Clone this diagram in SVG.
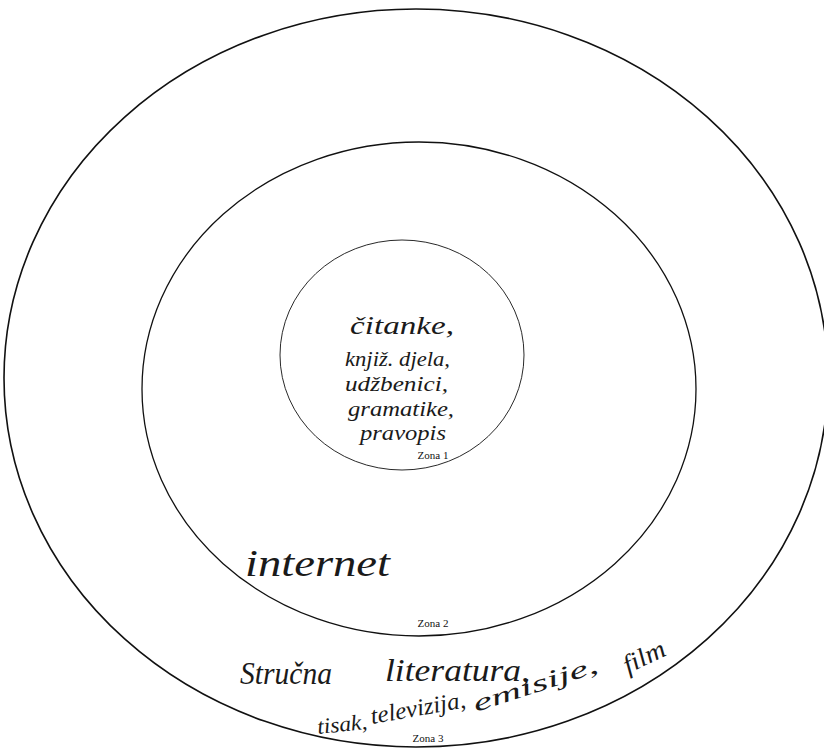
<svg xmlns="http://www.w3.org/2000/svg" width="824" height="749" viewBox="0 0 824 749">
<style>
.ring{fill:none;stroke:#111}
.hw{font-family:"Liberation Serif","DejaVu Serif",serif;font-style:italic;fill:#1a1a1a}
.zl{font-family:"Liberation Serif","Times New Roman",serif;font-size:11px;fill:#111;text-anchor:middle}
</style>
<rect width="824" height="749" fill="#fff"/>
<g id="zone3">
<ellipse class="ring" cx="416" cy="378" rx="412" ry="369" stroke-width="1.6"/>
<text class="hw" x="240" y="684" font-size="32" textLength="92" lengthAdjust="spacingAndGlyphs">Stručna</text>
<text class="hw" x="385" y="681" font-size="32" textLength="145" lengthAdjust="spacingAndGlyphs">literatura,</text>
<text class="hw" x="318" y="734" font-size="22" transform="rotate(-6 318 734)" textLength="50" lengthAdjust="spacingAndGlyphs">tisak,</text>
<text class="hw" x="372" y="724" font-size="24" transform="rotate(-10 372 724)" textLength="96" lengthAdjust="spacingAndGlyphs">televizija,</text>
<text class="hw" x="476" y="712" font-size="24" transform="rotate(-18 476 712)" textLength="130" lengthAdjust="spacingAndGlyphs">emisije,</text>
<text class="hw" x="628" y="674" font-size="26" transform="rotate(-26 628 674)" textLength="44" lengthAdjust="spacingAndGlyphs">film</text>
<text class="zl" x="428" y="742">Zona 3</text>
</g>
<g id="zone2">
<ellipse class="ring" cx="419" cy="389" rx="277" ry="247" stroke-width="1.3"/>
<text class="hw" x="245" y="576" font-size="38" textLength="145" lengthAdjust="spacingAndGlyphs">internet</text>
<text class="zl" x="433" y="627">Zona 2</text>
</g>
<g id="zone1">
<ellipse class="ring" cx="402" cy="355" rx="122" ry="115" stroke-width="0.9" stroke="#444"/>
<text class="hw" x="350" y="334" font-size="26" textLength="104" lengthAdjust="spacingAndGlyphs">čitanke,</text>
<text class="hw" x="345" y="366" font-size="21" textLength="105" lengthAdjust="spacingAndGlyphs">knjiž. djela,</text>
<text class="hw" x="345" y="391" font-size="21" textLength="103" lengthAdjust="spacingAndGlyphs">udžbenici,</text>
<text class="hw" x="348" y="416" font-size="21" textLength="106" lengthAdjust="spacingAndGlyphs">gramatike,</text>
<text class="hw" x="360" y="440" font-size="21" textLength="86" lengthAdjust="spacingAndGlyphs">pravopis</text>
<text class="zl" x="433" y="459">Zona 1</text>
</g>
</svg>
